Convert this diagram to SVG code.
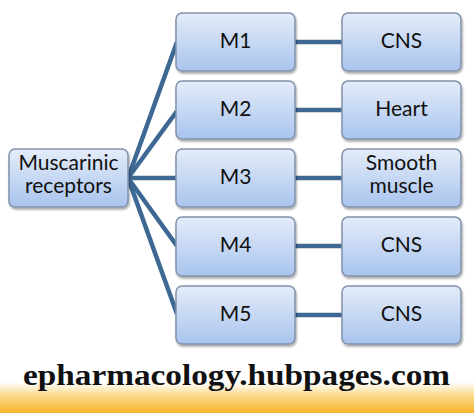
<svg xmlns="http://www.w3.org/2000/svg" width="474" height="413" viewBox="0 0 474 413">
<defs>
<linearGradient id="boxg" x1="0" y1="0" x2="0" y2="1">
<stop offset="0" stop-color="#e4ecf9"/>
<stop offset="1" stop-color="#a9c4ee"/>
</linearGradient>
<linearGradient id="band" x1="0" y1="0" x2="0" y2="1">
<stop offset="0" stop-color="#ffffff"/>
<stop offset="0.45" stop-color="#fbd98a"/>
<stop offset="1" stop-color="#f6b52c"/>
</linearGradient>
<filter id="sh" x="-10%" y="-10%" width="130%" height="140%">
<feGaussianBlur in="SourceAlpha" stdDeviation="1.2"/>
<feOffset dx="1" dy="1.5"/>
<feComponentTransfer><feFuncA type="linear" slope="0.35"/></feComponentTransfer>
<feMerge><feMergeNode/><feMergeNode in="SourceGraphic"/></feMerge>
</filter>
</defs>
<style>
.box{fill:url(#boxg);stroke:#8192ab;stroke-width:1.5;filter:url(#sh)}
.t{font-family:Lato,"Open Sans",sans-serif;font-size:21px;fill:#111;text-anchor:middle}
.c{stroke:#3e6894;stroke-width:4.5;fill:none;stroke-linecap:butt}
.wm{font-family:"Liberation Serif","Times New Roman",serif;font-weight:bold;font-size:29px;fill:#111}
</style>
<rect width="474" height="413" fill="#ffffff"/>
<rect x="0" y="382" width="474" height="31" fill="url(#band)"/>
<g id="connectors">
<line class="c" x1="128" y1="178" x2="177" y2="42"/>
<line class="c" x1="128" y1="178" x2="177" y2="111"/>
<line class="c" x1="128" y1="178" x2="177" y2="178"/>
<line class="c" x1="128" y1="178" x2="177" y2="246"/>
<line class="c" x1="128" y1="178" x2="177" y2="314"/>
<line class="c" x1="295" y1="42" x2="342" y2="42"/>
<line class="c" x1="295" y1="110" x2="342" y2="110"/>
<line class="c" x1="295" y1="178" x2="342" y2="178"/>
<line class="c" x1="295" y1="246" x2="342" y2="246"/>
<line class="c" x1="295" y1="315" x2="342" y2="315"/>
</g>
<g id="muscarinic">
<rect class="box" x="9" y="149" width="119" height="58" rx="6"/>
<text class="t" x="68.5" y="170">Muscarinic</text>
<text class="t" x="68.5" y="193">receptors</text>
</g>
<g id="m1"><rect class="box" x="176" y="13" width="119" height="58" rx="6"/><text class="t" x="235.5" y="48">M1</text></g>
<g id="m2"><rect class="box" x="176" y="81" width="119" height="58" rx="6"/><text class="t" x="235.5" y="116">M2</text></g>
<g id="m3"><rect class="box" x="176" y="149" width="119" height="58" rx="6"/><text class="t" x="235.5" y="184">M3</text></g>
<g id="m4"><rect class="box" x="176" y="217" width="119" height="59" rx="6"/><text class="t" x="235.5" y="252">M4</text></g>
<g id="m5"><rect class="box" x="176" y="286" width="119" height="58" rx="6"/><text class="t" x="235.5" y="321">M5</text></g>
<g id="cns1"><rect class="box" x="342" y="13" width="119" height="58" rx="6"/><text class="t" x="401.5" y="48">CNS</text></g>
<g id="heart"><rect class="box" x="342" y="81" width="119" height="58" rx="6"/><text class="t" x="401.5" y="116">Heart</text></g>
<g id="smooth"><rect class="box" x="342" y="149" width="119" height="58" rx="6"/><text class="t" x="401.5" y="170">Smooth</text><text class="t" x="401.5" y="193">muscle</text></g>
<g id="cns4"><rect class="box" x="342" y="217" width="119" height="59" rx="6"/><text class="t" x="401.5" y="252">CNS</text></g>
<g id="cns5"><rect class="box" x="342" y="286" width="119" height="58" rx="6"/><text class="t" x="401.5" y="321">CNS</text></g>
<text class="wm" x="23" y="385" textLength="427" lengthAdjust="spacingAndGlyphs">epharmacology.hubpages.com</text>
</svg>
